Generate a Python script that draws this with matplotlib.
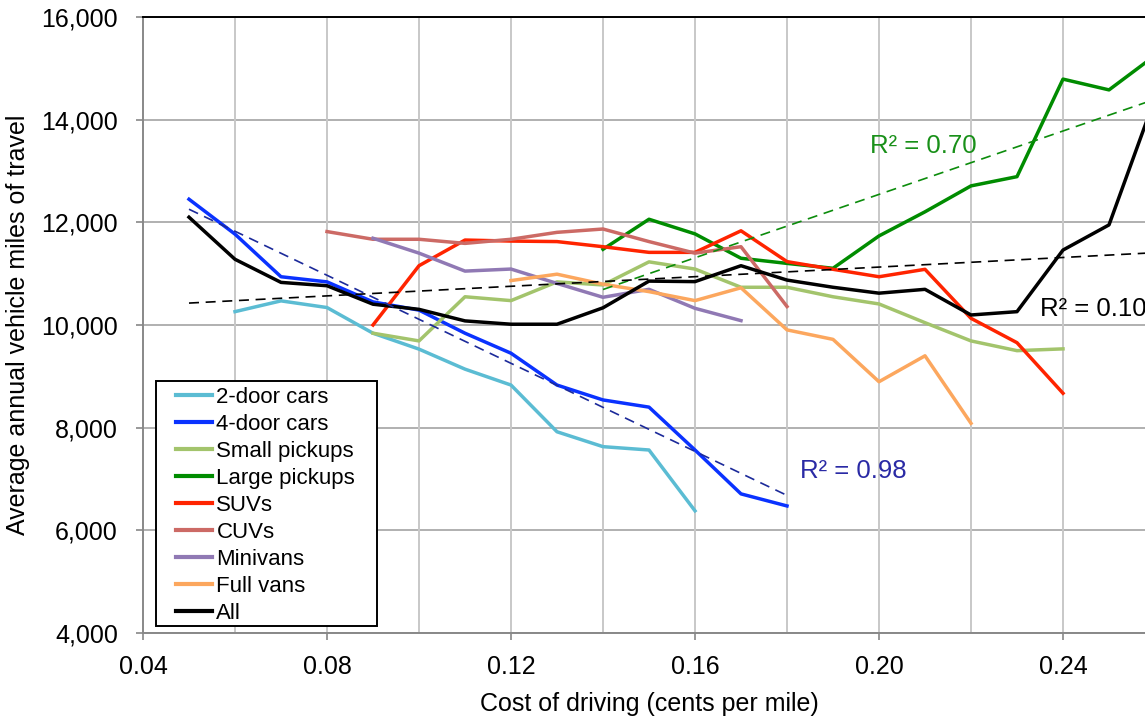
import matplotlib.pyplot as plt
import numpy as np
from matplotlib.ticker import MultipleLocator, FuncFormatter
from matplotlib.patches import Rectangle

plt.rcParams.update({
    "font.family": ["Liberation Sans", "DejaVu Sans"],
    "font.size": 18,
})

# cost of driving (dollars per mile) for each series
x_2door = [0.06, 0.07, 0.08, 0.09, 0.10, 0.11, 0.12, 0.13, 0.14, 0.15, 0.16]
y_2door = [10260, 10470, 10340, 9840, 9530, 9140, 8830, 7920, 7630, 7565, 6380]

x_4door = [0.05, 0.06, 0.07, 0.08, 0.09, 0.10, 0.11, 0.12, 0.13, 0.14, 0.15, 0.16, 0.17, 0.18]
y_4door = [12450, 11770, 10940, 10840, 10450, 10290, 9840, 9450, 8830, 8540, 8400, 7565, 6710, 6475]

x_small_pu = [0.09, 0.10, 0.11, 0.12, 0.13, 0.14, 0.15, 0.16, 0.17, 0.18, 0.19, 0.20, 0.21, 0.22, 0.23, 0.24]
y_small_pu = [9840, 9690, 10550, 10475, 10840, 10780, 11230, 11090, 10735, 10735, 10550, 10410, 10045, 9690, 9500, 9535]

x_large_pu = [0.14, 0.15, 0.16, 0.17, 0.18, 0.19, 0.20, 0.21, 0.22, 0.23, 0.24, 0.25, 0.26]
y_large_pu = [11475, 12060, 11775, 11300, 11200, 11105, 11735, 12205, 12710, 12890, 14790, 14580, 15250]

x_suv = [0.09, 0.10, 0.11, 0.12, 0.13, 0.14, 0.15, 0.16, 0.17, 0.18, 0.19, 0.20, 0.21, 0.22, 0.23, 0.24]
y_suv = [10000, 11155, 11655, 11635, 11625, 11525, 11415, 11415, 11835, 11235, 11085, 10940, 11085, 10130, 9655, 8670]

x_cuv = [0.08, 0.09, 0.10, 0.11, 0.12, 0.13, 0.14, 0.15, 0.16, 0.17, 0.18]
y_cuv = [11820, 11670, 11670, 11590, 11670, 11805, 11870, 11625, 11400, 11525, 10360]

x_minivan = [0.09, 0.10, 0.11, 0.12, 0.13, 0.14, 0.15, 0.16, 0.17]
y_minivan = [11690, 11400, 11050, 11090, 10810, 10540, 10695, 10325, 10085]

x_fullvan = [0.12, 0.13, 0.14, 0.15, 0.16, 0.17, 0.18, 0.19, 0.20, 0.21, 0.22]
y_fullvan = [10865, 10990, 10795, 10650, 10475, 10725, 9905, 9720, 8895, 9400, 8085]

x_all = [0.05, 0.06, 0.07, 0.08, 0.09, 0.10, 0.11, 0.12, 0.13, 0.14, 0.15, 0.16, 0.17,
         0.18, 0.19, 0.20, 0.21, 0.22, 0.23, 0.24, 0.25, 0.26]
y_all = [12100, 11280, 10830, 10765, 10405, 10305, 10080, 10015, 10015, 10335, 10855, 10845, 11155,
         10875, 10735, 10620, 10695, 10195, 10260, 11460, 11950, 14420]

r2_labels = ["R\u00b2 = 0.98", "R\u00b2 = 0.70", "R\u00b2 = 0.10"]

series = [
    ("2-door cars", x_2door, y_2door, "#5BBCD3"),
    ("4-door cars", x_4door, y_4door, "#0A32FF"),
    ("Small pickups", x_small_pu, y_small_pu, "#A3C46C"),
    ("Large pickups", x_large_pu, y_large_pu, "#008C00"),
    ("SUVs", x_suv, y_suv, "#FF2400"),
    ("CUVs", x_cuv, y_cuv, "#CC6A65"),
    ("Minivans", x_minivan, y_minivan, "#9079B4"),
    ("Full vans", x_fullvan, y_fullvan, "#FCA75E"),
    ("All", x_all, y_all, "black"),
]

W, H = 1145, 719
fig = plt.figure(figsize=(W / 100, H / 100), dpi=100)
ax = fig.add_axes([143 / W, 1 - 633 / H, 1012 / W, 616 / H])

for label, xs, ys, col in series:
    ax.plot(xs, ys, color=col, lw=2.5, label=label, zorder=3)

# linear trendlines (4-door, large pickups, all)
trends = [(x_4door, y_4door, "#1C2A9A", r2_labels[0], "#2A2AA5", 0.1828, 7160),
          (x_large_pu, y_large_pu, "#0C8C0C", r2_labels[1], "#199019", 0.198, 13490),
          (x_all, y_all, "black", r2_labels[2], "black", 0.235, 10310)]
for xs, ys, col, txt, tcol, tx, ty in trends:
    k, b = np.polyfit(xs, ys, 1)
    xx = np.array([xs[0], xs[-1]])
    ax.plot(xx, k * xx + b, color=col, lw=1.2, ls=(0, (6, 4)), zorder=4)
    ax.text(tx, ty, txt, color=tcol, fontsize=18.5, ha="left", va="center", zorder=5)

ax.set_xlim(0.04, 0.26)
ax.set_ylim(4000, 16000)
ax.xaxis.set_major_locator(MultipleLocator(0.04))
ax.yaxis.set_major_locator(MultipleLocator(2000))
ax.xaxis.set_major_formatter(FuncFormatter(lambda v, p: f"{v:.2f}"))
ax.yaxis.set_major_formatter(FuncFormatter(lambda v, p: f"{v:,.0f}"))

# vertical grid every 0.02
for gx in np.arange(0.06, 0.26, 0.02):
    ax.axvline(gx, color="#C8C8C8", lw=1.4, zorder=1)
ax.grid(True, axis="y", color="#B0B0B0", lw=1.4, zorder=1)
ax.set_axisbelow(True)

ax.tick_params(axis="both", direction="out", length=5, width=1.2, color="#888888", labelsize=18)
ax.tick_params(axis="y", pad=13)
ax.tick_params(axis="x", pad=11)
for s in ["left", "bottom"]:
    ax.spines[s].set_color("#888888")
    ax.spines[s].set_linewidth(1.4)
ax.spines["top"].set_color("black")
ax.spines["top"].set_linewidth(1.4)
ax.spines["right"].set_visible(False)

ax.set_xlabel("Cost of driving (cents per mile)", fontsize=18, labelpad=9)
ax.set_ylabel("Average annual vehicle miles of travel", fontsize=18, labelpad=8)

# legend box drawn separately so the padding can differ per side
ax.add_patch(Rectangle((155.7 / W, 1 - 625.7 / H), 221 / W, 245 / H,
                       transform=fig.transFigure, facecolor="white",
                       edgecolor="black", lw=1.4, zorder=6, clip_on=False))
leg = ax.legend(loc="upper left", bbox_to_anchor=(176 / W, 1 - 387 / H),
                bbox_transform=fig.transFigure, fontsize=16, frameon=False,
                handlelength=1.62, handletextpad=0.2,
                labelspacing=0.27, borderpad=0, borderaxespad=0)
for h in leg.get_lines():
    h.set_linewidth(3)
leg.set_zorder(7)

fig.savefig("out.png", dpi=100)
